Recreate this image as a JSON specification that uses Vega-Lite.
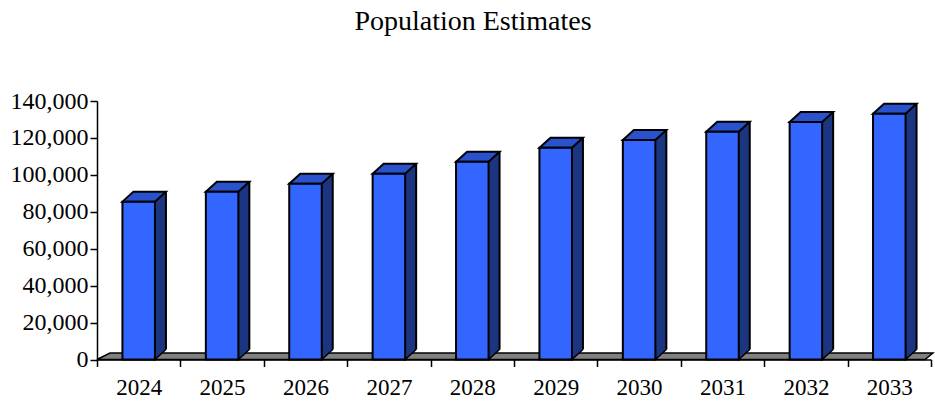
{
  "$schema": "https://vega.github.io/schema/vega-lite/v6.json",
  "width": 834,
  "height": 258.5,
  "autosize": {"type": "none"},
  "padding": {"left": 97, "top": 101, "right": 4, "bottom": 43.5},
  "background": "white",
  "title": {"text": "Population Estimates", "font": "Liberation Serif", "fontSize": 28, "fontWeight": "normal", "color": "black", "anchor": "middle", "dx": -41, "offset": 31, "baseline": "alphabetic"},
  "config": {
    "view": {"stroke": null},
    "axisX": {"title": null, "labelAngle": 0, "labelFont": "Liberation Serif", "labelFontSize": 23, "labelColor": "black", "tickBand": "extent", "tickSize": 7, "tickColor": "black", "tickWidth": 1.5, "domainColor": "black", "domainWidth": 1.5, "labelPadding": 10, "labelFlush": false},
    "axisY": {"labelFont": "Liberation Serif", "labelFontSize": 24, "labelColor": "black", "tickSize": 7, "tickColor": "black", "tickWidth": 1.5, "domainColor": "black", "domainWidth": 1.5, "grid": false, "labelPadding": 2, "labelFlush": false, "labelOverlap": false}
  },
  "data": {"values": [
    {"year": "2024", "population": 85500},
    {"year": "2025", "population": 90900},
    {"year": "2026", "population": 95200},
    {"year": "2027", "population": 100600},
    {"year": "2028", "population": 107100},
    {"year": "2029", "population": 114700},
    {"year": "2030", "population": 118900},
    {"year": "2031", "population": 123400},
    {"year": "2032", "population": 128600},
    {"year": "2033", "population": 133100}
  ]},
  "layer": [
    {
      "data": {"values": [{"year": "2029"}]},
      "mark": {"type": "point", "shape": "M-1,0.0078L0.9809,0.0078L1,-0.0078L-0.9689,-0.0078Z", "size": 698896, "filled": true, "fill": "#808080", "stroke": "black", "strokeWidth": 1.5, "opacity": 1, "xOffset": 1, "yOffset": -3.25},
      "encoding": {
        "x": {"field": "year", "type": "ordinal", "bandPosition": 0, "scale": {"type": "band", "paddingInner": 0, "paddingOuter": 0}, "axis": {"title": null}},
        "y": {"datum": 0, "type": "quantitative", "axis": {"title": null, "values": [0, 20000, 40000, 60000, 80000, 100000, 120000, 140000], "format": ",.0f"}}
      }
    },
    {
      "mark": {"type": "bar", "fill": "#1c3580", "width": {"band": 0.39}, "xOffset": 11, "yOffset": -10, "y2Offset": -9.5},
      "encoding": {
        "x": {"field": "year", "type": "ordinal", "scale": {"type": "band", "paddingInner": 0, "paddingOuter": 0}, "axis": {"title": null}},
        "y": {"field": "population", "type": "quantitative", "axis": {"title": null, "values": [0, 20000, 40000, 60000, 80000, 100000, 120000, 140000], "format": ",.0f"}},
        "y2": {"datum": 0}
      }
    },
    {
      "mark": {"type": "point", "shape": "M1,-0.909L-1,0.909L-1,-0.909", "size": 121, "filled": true, "fill": "#1c3580", "stroke": "black", "strokeWidth": 1.5, "opacity": 1, "xOffset": 21.75, "yOffset": -5},
      "encoding": {
        "x": {"field": "year", "type": "ordinal", "scale": {"type": "band", "paddingInner": 0, "paddingOuter": 0}, "axis": {"title": null}},
        "y": {"datum": 0, "type": "quantitative", "axis": {"title": null, "values": [0, 20000, 40000, 60000, 80000, 100000, 120000, 140000], "format": ",.0f"}}
      }
    },
    {
      "mark": {"type": "rule", "stroke": "black", "strokeWidth": 2, "xOffset": 27.25, "yOffset": -10, "y2Offset": -10},
      "encoding": {
        "x": {"field": "year", "type": "ordinal", "scale": {"type": "band", "paddingInner": 0, "paddingOuter": 0}, "axis": {"title": null}},
        "y": {"field": "population", "type": "quantitative", "axis": {"title": null, "values": [0, 20000, 40000, 60000, 80000, 100000, 120000, 140000], "format": ",.0f"}},
        "y2": {"datum": 0}
      }
    },
    {
      "mark": {"type": "point", "shape": "M-1,0.2299L0.4943,0.2299L1,-0.2299L-0.4943,-0.2299Z", "size": 1892.25, "filled": true, "fill": "#2a52cc", "stroke": "black", "strokeWidth": 2, "opacity": 1, "xOffset": 5.5, "yOffset": -5},
      "encoding": {
        "x": {"field": "year", "type": "ordinal", "scale": {"type": "band", "paddingInner": 0, "paddingOuter": 0}, "axis": {"title": null}},
        "y": {"field": "population", "type": "quantitative", "axis": {"title": null, "values": [0, 20000, 40000, 60000, 80000, 100000, 120000, 140000], "format": ",.0f"}}
      }
    },
    {
      "mark": {"type": "bar", "fill": "#3366ff", "stroke": "black", "strokeWidth": 2, "width": {"band": 0.39}},
      "encoding": {
        "x": {"field": "year", "type": "ordinal", "scale": {"type": "band", "paddingInner": 0, "paddingOuter": 0}, "axis": {"title": null}},
        "y": {"field": "population", "type": "quantitative", "scale": {"domain": [0, 140000], "nice": false, "zero": true}, "axis": {"title": null, "values": [0, 20000, 40000, 60000, 80000, 100000, 120000, 140000], "format": ",.0f"}},
        "y2": {"datum": 0}
      }
    }
  ]
}
